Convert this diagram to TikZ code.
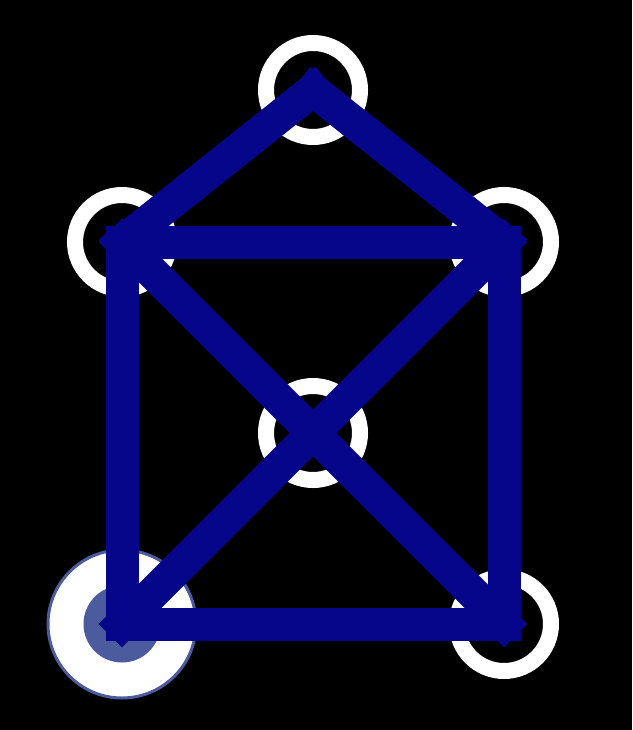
\documentclass[tikz,border=0pt]{standalone}
\begin{document}
\begin{tikzpicture}[x=1pt,y=-1pt,
  ring/.style={circle,draw=white,line width=16pt,inner sep=0pt,minimum size=94pt},
  bigring/.style={circle,fill=white,draw=selblue,line width=3pt,inner sep=0pt,minimum size=148pt},
  selcore/.style={circle,fill=selblue,inner sep=0pt,minimum size=77pt},
  edge/.style={draw=edgeblue,line width=33pt,line cap=rect}]
\definecolor{edgeblue}{RGB}{6,6,138}
\definecolor{selblue}{RGB}{76,90,158}
\fill[black] (0,0) rectangle (632,730);
\useasboundingbox (0,0) rectangle (632,730);
\coordinate (top) at (313,90);
\coordinate (ul) at (122,242);
\coordinate (ur) at (504,242);
\coordinate (mid) at (313,433);
\coordinate (ll) at (122,624);
\coordinate (lr) at (504,624);
\node[ring] (rtop) at (top) {};
\node[ring] (rul) at (ul) {};
\node[ring] (rur) at (ur) {};
\node[ring] (rmid) at (mid) {};
\node[ring] (rlr) at (lr) {};
\node[bigring] (rll) at (ll) {};
\node[selcore] (cll) at (ll) {};
\draw[edge] (ul) -- (top);
\draw[edge] (top) -- (ur);
\draw[edge] (ul) -- (ur);
\draw[edge] (ul) -- (ll);
\draw[edge] (ur) -- (lr);
\draw[edge] (ll) -- (lr);
\draw[edge] (ul) -- (lr);
\draw[edge] (ur) -- (ll);
\end{tikzpicture}
\end{document}
